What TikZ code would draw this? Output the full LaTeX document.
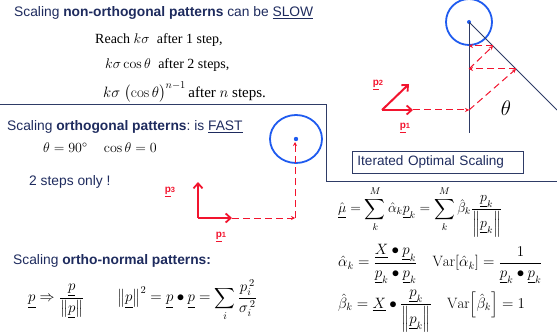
\RequirePackage{fix-cm}
\documentclass[tikz,border=0pt]{standalone}
\usepackage{amsmath}
\usepackage{fontspec}
\usetikzlibrary{arrows.meta}
\newfontfamily\arialf{Liberation Sans}
\newfontfamily\tnrf{Liberation Serif}
\definecolor{navy}{HTML}{1E2B5E}
\definecolor{lnc}{HTML}{2E3B66}
\definecolor{vred}{HTML}{F2142E}
\definecolor{cblue}{HTML}{1F5BEF}
\tikzset{
  sans/.style={font=\arialf\fontsize{13.8}{16}\selectfont, text=navy, inner sep=0pt, anchor=west},
  serif/.style={font=\tnrf\fontsize{14}{17}\selectfont, text=black, inner sep=0pt, anchor=west},
  mth/.style={font=\tnrf\fontsize{15}{18}\selectfont, text=black, inner sep=0pt, anchor=west},
  vec/.style={draw=vred, line width=2pt, -{Straight Barb[length=5pt,width=9pt,line width=1.8pt]}},
  dsh/.style={draw=vred, line width=1pt, dash pattern=on 7pt off 4pt, -{Stealth[length=4pt,width=4pt]}},
  plab/.style={text=vred, font=\arialf\fontsize{10}{11}\selectfont\bfseries, inner sep=0pt},
  ring/.style={draw=cblue, line width=1.8pt},
  axis/.style={draw=lnc, line width=0.9pt},
}
\newcommand{\ul}[1]{\underline{#1}}
\begin{document}
\begin{tikzpicture}[x=1pt,y=-1pt]
\useasboundingbox (0,0) rectangle (557,334);
\begin{scope}
\clip (0,0) rectangle (557,334);
% top right construction
\coordinate (c1) at (469,22);
\draw[ring] (c1) circle (23);
\fill[cblue] (c1) circle (2);
\coordinate (vb) at (469,133);
\coordinate (de) at (557,110);
\draw[axis] (c1) -- (vb);
\draw[axis] (c1) -- (de);
\end{scope}
\coordinate (o1) at (382,110);
\coordinate (a1) at (413,110);
\coordinate (a2) at (409,84);
\coordinate (h1) at (469,110);
\coordinate (g1) at (516,69);
\coordinate (h2) at (469,69);
\coordinate (g2) at (493,46);
\coordinate (h3) at (469,46);
\draw[dsh] (a1) -- (h1);
\draw[dsh] (h1) -- (g1);
\draw[dsh] (g1) -- (h2);
\draw[dsh] (h2) -- (g2);
\draw[dsh] (g2) -- (h3);
\draw[vec] (o1) -- (a1);
\draw[vec] (o1) -- (a2);
\node[plab] (lp2) at (378,85) {\ul{p}\raisebox{0.5pt}{\fontsize{7.5}{8}\selectfont 2}};
\node[plab] (lp1) at (405,128) {\ul{p}\raisebox{0.5pt}{\fontsize{7.5}{8}\selectfont 1}};
\node[font=\fontsize{21}{24}\selectfont, inner sep=0pt] (th) at (506,108) {$\theta$};
\node[draw=lnc, line width=0.8pt, anchor=north west, minimum width=171pt, minimum height=22pt, text width=161pt, inner xsep=5pt, align=left, font=\arialf\fontsize{13.6}{15}\selectfont, text=navy] (ios) at (352,151) {Iterated Optimal Scaling};

% separating lines
\coordinate (l0) at (0,104);
\coordinate (l1) at (326,104);
\coordinate (l2) at (326,181);
\coordinate (l3) at (557,181);
\draw[draw=lnc, line width=0.9pt] (l0) -- (l1) -- (l2) -- (l3);

% top left text
\node[sans] (t1) at (14,13) {Scaling \textbf{non-orthogonal patterns} can be \ul{SLOW}};
\node[serif] (r1) at (95,40) {Reach $k\sigma$\; after 1 step,};
\node[serif] (r2) at (105,65) {$k\sigma\cos\theta$\; after 2 steps,};
\node[serif, font=\tnrf\fontsize{15}{18}\selectfont] (r3) at (103,92) {$k\sigma\;\bigl(\cos\theta\bigr)^{n-1}$\,after $n$ steps.};

% middle left
\node[sans] (t2) at (7,127) {Scaling \textbf{orthogonal patterns}:\ is \ul{FAST}};
\node[mth, font=\fontsize{14}{16}\selectfont] (e1) at (43,148) {$\theta=90^\circ\quad\cos\theta=0$};
\node[sans] (t3) at (29,182) {2 steps only !};

\coordinate (c2) at (296,139);
\draw[ring] (c2) ellipse (26 and 24);
\fill[cblue] (c2) circle (2.2);
\coordinate (o2) at (198,218);
\coordinate (b1) at (232,218);
\coordinate (b3) at (198,182);
\coordinate (k1) at (295,218);
\coordinate (k2) at (295,142);
\draw[dsh] (b1) -- (k1);
\draw[dsh] (k1) -- (k2);
\draw[vec] (o2) -- (b1);
\draw[vec] (o2) -- (b3);
\node[plab] (lp3) at (170,192) {\ul{p}\raisebox{0.5pt}{\fontsize{7.5}{8}\selectfont 3}};
\node[plab] (lp1b) at (221,237) {\ul{p}\raisebox{0.5pt}{\fontsize{7.5}{8}\selectfont 1}};

% bottom left
\node[sans] (t4) at (13,261) {Scaling \textbf{ortho-normal patterns:}};
\node[mth] (e2) at (28,300) {$\displaystyle\ul{p}\Rightarrow\frac{\ul{p}}{\left\|\ul{p}\right\|}\qquad
 \left\|\ul{p}\right\|^2=\ul{p}\bullet\ul{p}=\sum_i\frac{p_i^{\,2}}{\sigma_i^{\,2}}$};

% right formulas
\node[mth, font=\fontsize{14}{17}\selectfont] (f1) at (338,212) {$\displaystyle\hat{\ul{\mu}}=\sum_k^M\hat\alpha_k\ul{p}_k=\sum_k^M\hat\beta_k\frac{\ul{p}_k}{\left\|\ul{p}_k\right\|}$};
\node[mth] (f2) at (338,264) {$\displaystyle\hat\alpha_k=\frac{\ul{X}\bullet\ul{p}_k}{\ul{p}_k\bullet\ul{p}_k}\quad\mathrm{Var}\!\left[\hat\alpha_k\right]=\frac{1}{\ul{p}_k\bullet\ul{p}_k}$};
\node[mth] (f3) at (338,311) {$\displaystyle\hat\beta_k=\ul{X}\bullet\frac{\ul{p}_k}{\left\|\ul{p}_k\right\|}\quad\mathrm{Var}\!\left[\hat\beta_k\right]=1$};
\end{tikzpicture}
\end{document}
